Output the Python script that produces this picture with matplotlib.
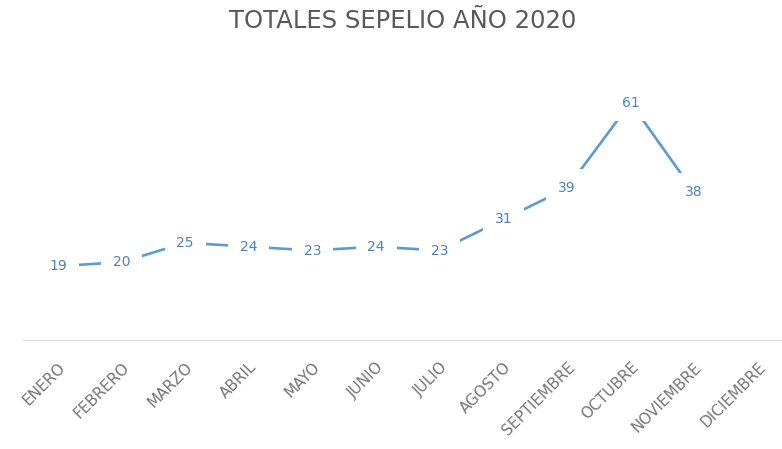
import matplotlib.pyplot as plt

meses = ["ENERO", "FEBRERO", "MARZO", "ABRIL", "MAYO", "JUNIO", "JULIO",
         "AGOSTO", "SEPTIEMBRE", "OCTUBRE", "NOVIEMBRE", "DICIEMBRE"]
totales = [19, 20, 25, 24, 23, 24, 23, 31, 39, 61, 38]

azul_linea = "#5B9BD5"
azul_texto = "#4F81BD"
gris = "#595959"

plt.rcParams["font.family"] = ["DejaVu Sans"]

fig = plt.figure(figsize=(7.82, 4.49), dpi=100)
ax = fig.add_axes([23 / 782, 1 - 340 / 449, 1 - 23 / 782, (340 - 70) / 449])

x = list(range(len(totales)))
ax.plot(x, totales, color=azul_linea, linewidth=1.9, zorder=2)
for xi, v in zip(x, totales):
    ax.text(xi, v, str(v), ha="center", va="center", fontsize=10, color=azul_texto,
            zorder=3, bbox=dict(boxstyle="square,pad=0.85", fc="white", ec="none"))

ax.set_xlim(-0.55, 11.38)
ax.set_ylim(0, 69.4)
ax.set_xticks(range(len(meses)))
ax.set_xticklabels(meses, rotation=45, ha="right", rotation_mode="anchor",
                   fontsize=11, color="#767676")
ax.tick_params(axis="x", length=0, pad=14)
ax.set_yticks([])
for lado in ["top", "right", "left"]:
    ax.spines[lado].set_visible(False)
ax.spines["bottom"].set_color("#D9D9D9")

fig.text(403 / 782, 1 - 21 / 449, "TOTALES SEPELIO AÑO 2020", ha="center", va="center",
         fontsize=17.5, color=gris)

fig.savefig("out.png", dpi=100)
